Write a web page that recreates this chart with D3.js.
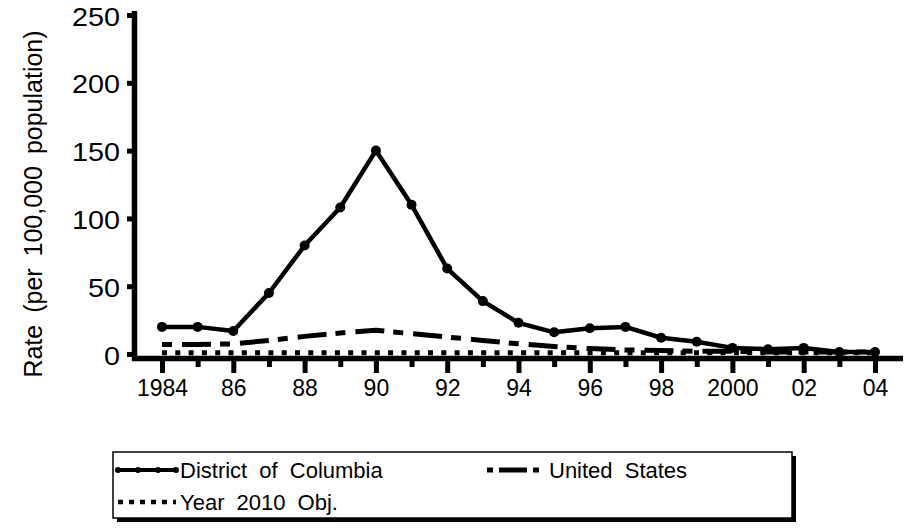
<!DOCTYPE html>
<html>
<head>
<meta charset="utf-8">
<script src="https://cdn.jsdelivr.net/npm/d3@7"></script>
<style>
  body { margin: 0; background: #fff; }
  svg text { font-family: "Liberation Sans", Arial, Helvetica, sans-serif; fill: #000; }
</style>
</head>
<body>
<svg id="chart" width="913" height="528"></svg>
<script>
const years = [1984,1985,1986,1987,1988,1989,1990,1991,1992,1993,1994,1995,1996,1997,1998,1999,2000,2001,2002,2003,2004];
const dcValues = [20,20,17,45,80,108,150,110,63,39,23,16,19,20,12,9,4.5,3.5,4.5,1.5,1.5];
const usValues = [7,7,7.5,10,13,15.5,17.5,15,12.5,10,7.5,5.5,4,3,2.5,2,2,1.5,1.5,1.5,1.5];
const objValues = [1,1,1,1,1,1,1,1,1,1,1,1,1,1,1,1,1,1,1,1,1];
const yTicks = [0,50,100,150,200,250];
const xTickYears = [1984,1986,1988,1990,1992,1994,1996,1998,2000,2002,2004];
const xTickLabels = ["1984","86","88","90","92","94","96","98","2000","02","04"];
const seriesNames = ["District of Columbia","United States","Year 2010 Obj."];
const yTitle = "Rate (per 100,000 population)";

const svg = d3.select("#chart");
const x = d3.scaleLinear().domain([1984, 2004]).range([162, 875]);
const y = d3.scaleLinear().domain([0, 250]).range([354, 15]);

// Axis lines
svg.append("line").attr("x1", 134.5).attr("x2", 134.5).attr("y1", 11).attr("y2", 361)
  .attr("stroke", "#000").attr("stroke-width", 5.5);
svg.append("line").attr("x1", 132).attr("x2", 903).attr("y1", 358.5).attr("y2", 358.5)
  .attr("stroke", "#000").attr("stroke-width", 5.5);

// Y axis
const yAxis = d3.axisLeft(y).tickValues(yTicks).tickSize(5).tickPadding(7).tickFormat(d3.format("d"));
const gy = svg.append("g").attr("transform", "translate(132,0)").call(yAxis);
gy.select(".domain").remove();
gy.selectAll(".tick line").attr("stroke", "#000").attr("stroke-width", 5);
gy.selectAll(".tick text").attr("font-size", 25).attr("dy", "0.4em")
  .attr("textLength", d => String(d).length * 16).attr("lengthAdjust", "spacingAndGlyphs");

// X axis: major (labelled) ticks
const xAxis = d3.axisBottom(x).tickValues(xTickYears).tickSize(15).tickPadding(16)
  .tickFormat((d, i) => xTickLabels[i]);
const gx = svg.append("g").attr("transform", "translate(0,358)").call(xAxis);
gx.select(".domain").remove();
gx.selectAll(".tick line").attr("stroke", "#000").attr("stroke-width", 5);
gx.selectAll(".tick text").attr("font-size", 23).attr("dy", "0.3em");

// minor ticks
const minorYears = years.filter(d => d % 2 === 1);
const xMinor = d3.axisBottom(x).tickValues(minorYears).tickSize(9).tickFormat("");
const gm = svg.append("g").attr("transform", "translate(0,358)").call(xMinor);
gm.select(".domain").remove();
gm.selectAll(".tick line").attr("stroke", "#000").attr("stroke-width", 5);

// Lines
const line = d3.line().x((d, i) => x(years[i])).y(d => y(d));

svg.append("path").datum(objValues).attr("d", line)
  .attr("fill", "none").attr("stroke", "#000").attr("stroke-width", 5)
  .attr("stroke-dasharray", "5,8.3");

svg.append("path").datum(usValues).attr("d", line)
  .attr("fill", "none").attr("stroke", "#000").attr("stroke-width", 5)
  .attr("stroke-dasharray", "10,10,29,9");

svg.append("path").datum(dcValues).attr("d", line)
  .attr("fill", "none").attr("stroke", "#000").attr("stroke-width", 4.5)
  .attr("stroke-linejoin", "round");

svg.selectAll("circle.dc").data(dcValues).enter().append("circle")
  .attr("class", "dc")
  .attr("cx", (d, i) => x(years[i])).attr("cy", d => y(d)).attr("r", 5)
  .attr("fill", "#000");

// Y title
svg.append("text")
  .attr("transform", "translate(42,204) rotate(-90)")
  .attr("text-anchor", "middle")
  .attr("font-size", 25)
  .attr("word-spacing", 5)
  .text(yTitle);

// Legend
const lg = svg.append("g");
lg.append("rect").attr("x", 117).attr("y", 456).attr("width", 679).attr("height", 66).attr("fill", "#000");
lg.append("rect").attr("x", 113).attr("y", 452).attr("width", 679).attr("height", 66)
  .attr("fill", "#fff").attr("stroke", "#000").attr("stroke-width", 1.5);

const legendItems = [
  {name: seriesNames[0], x: 118, y: 470, dash: null, w: 4, marker: true},
  {name: seriesNames[1], x: 487, y: 470, dash: "6,6,28,6,6", w: 5, marker: false},
  {name: seriesNames[2], x: 118, y: 502, dash: "5,6", w: 4.5, marker: false}
];
legendItems.forEach(it => {
  lg.append("line").attr("x1", it.x).attr("x2", it.x + 58).attr("y1", it.y).attr("y2", it.y)
    .attr("stroke", "#000").attr("stroke-width", it.w)
    .attr("stroke-dasharray", it.dash);
  if (it.marker) {
    [0, 20, 40, 58].forEach(o => lg.append("circle").attr("cx", it.x + o).attr("cy", it.y).attr("r", 3).attr("fill", "#000"));
  }
  lg.append("text").attr("x", it.x + 62).attr("y", it.y + 8).attr("font-size", 22)
    .attr("word-spacing", 6).text(it.name);
});
</script>
</body>
</html>
